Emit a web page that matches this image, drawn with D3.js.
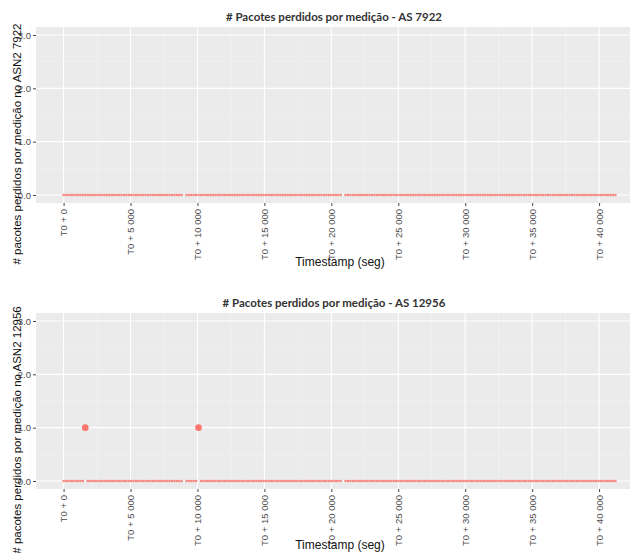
<!DOCTYPE html>
<html>
<head>
<meta charset="utf-8">
<script src="https://cdn.jsdelivr.net/npm/d3@7"></script>
<style>
  body { margin: 0; background: #fff; }
  svg { display: block; }
</style>
</head>
<body>
<div id="chart"></div>
<script>
// measurement timestamps (seconds after T0), shared by both ASes
const timestamps = [
  0,180,360,540,720,900,1080,1260,1440,1620,1800,1980,2160,2340,2520,2700,2880,3060,3240,3420,
  3600,3780,3960,4140,4320,4500,4680,4860,5040,5220,5400,5580,5760,5940,6120,6300,6480,6660,6840,7020,
  7200,7380,7560,7740,7920,8100,8280,8460,8640,8820,9180,9360,9540,9720,9900,10080,10260,10440,10620,10800,
  10980,11160,11340,11520,11700,11880,12060,12240,12420,12600,12780,12960,13140,13320,13500,13680,13860,14040,14220,14400,
  14580,14760,14940,15120,15300,15480,15660,15840,16020,16200,16380,16560,16740,16920,17100,17280,17460,17640,17820,18000,
  18180,18360,18540,18720,18900,19080,19260,19440,19620,19800,19980,20160,20340,20520,20700,21060,21240,21420,21600,21780,
  21960,22140,22320,22500,22680,22860,23040,23220,23400,23580,23760,23940,24120,24300,24480,24660,24840,25020,25200,25380,
  25560,25740,25920,26100,26280,26460,26640,26820,27000,27180,27360,27540,27720,27900,28080,28260,28440,28620,28800,28980,
  29160,29340,29520,29700,29880,30060,30240,30420,30600,30780,30960,31140,31320,31500,31680,31860,32040,32220,32400,32580,
  32760,32940,33120,33300,33480,33660,33840,34020,34200,34380,34560,34740,34920,35100,35280,35460,35640,35820,36000,36180,
  36360,36540,36720,36900,37080,37260,37440,37620,37800,37980,38160,38340,38520,38700,38880,39060,39240,39420,39600,39780,
  39960,40140,40320,40500,40680,40860,41040,41220
];

// measurements where one packet was lost
const lostAt7922 = [];
const lostAt12956 = [1620, 10080];

const xTicks = [0, 5000, 10000, 15000, 20000, 25000, 30000, 35000, 40000];
const yTicks = [0, 1, 2, 3];

const panels = [
  { title: "# Pacotes perdidos por medição - AS 7922", ylab: "# pacotes perdidos por medição no ASN2 7922", lost: lostAt7922, top: 27 },
  { title: "# Pacotes perdidos por medição - AS 12956", ylab: "# pacotes perdidos por medição no ASN2 12956", lost: lostAt12956, top: 313 }
];

const W = 630, H = 553;
const left = 36, right = 643, ph = 176;
const colour = "#F8766D";

const svg = d3.select("#chart").append("svg")
  .attr("width", W)
  .attr("height", H);

const x = d3.scaleLinear().domain([-2061, 43281]).range([left, right]);
const fmt = n => "T0 + " + d3.format(",")(n).replace(/,/g, " ");
const rScale = d3.scaleLinear().domain([0, 1]).range([1.3, 3.3]);

panels.forEach(p => {
  const y = d3.scaleLinear().domain([-0.15, 3.15]).range([p.top + ph, p.top]);
  const data = timestamps.map(t => ({ t: t, v: p.lost.filter(l => l === t).length }));

  const g = svg.append("g");

  g.append("rect")
    .attr("x", left).attr("y", p.top)
    .attr("width", right - left).attr("height", ph)
    .attr("fill", "#EBEBEB");

  // minor grid
  const xMinor = xTicks.map(d => d + 2500).concat([-2500]);
  g.selectAll(".xminor").data(xMinor).enter().append("line")
    .attr("x1", d => x(d)).attr("x2", d => x(d))
    .attr("y1", p.top).attr("y2", p.top + ph)
    .attr("stroke", "#F4F4F4").attr("stroke-width", 0.6);
  g.selectAll(".yminor").data([0.5, 1.5, 2.5]).enter().append("line")
    .attr("x1", left).attr("x2", right)
    .attr("y1", d => y(d)).attr("y2", d => y(d))
    .attr("stroke", "#F4F4F4").attr("stroke-width", 0.6);

  // major grid
  g.selectAll(".xmajor").data(xTicks).enter().append("line")
    .attr("x1", d => x(d)).attr("x2", d => x(d))
    .attr("y1", p.top).attr("y2", p.top + ph)
    .attr("stroke", "#fff").attr("stroke-width", 1.1);
  g.selectAll(".ymajor").data(yTicks).enter().append("line")
    .attr("x1", left).attr("x2", right)
    .attr("y1", d => y(d)).attr("y2", d => y(d))
    .attr("stroke", "#fff").attr("stroke-width", 1.1);

  // points
  g.selectAll(".pt").data(data).enter().append("circle")
    .attr("cx", d => x(d.t))
    .attr("cy", d => y(d.v))
    .attr("r", d => rScale(d.v))
    .attr("fill", colour)
    .attr("fill-opacity", d => d.v > 0 ? 1 : 0.85);

  // y axis
  const ya = g.append("g")
    .attr("transform", "translate(" + left + ",0)")
    .call(d3.axisLeft(y).tickValues(yTicks).tickSize(3).tickPadding(2));
  ya.select(".domain").remove();
  ya.selectAll("line").attr("stroke", "#444");
  ya.selectAll("text").attr("fill", "#4D4D4D").style("font", "9.5px 'Liberation Sans', Arial, sans-serif");

  // x axis
  const xa = g.append("g")
    .attr("transform", "translate(0," + (p.top + ph) + ")")
    .call(d3.axisBottom(x).tickValues(xTicks).tickFormat(fmt).tickSize(3));
  xa.select(".domain").remove();
  xa.selectAll("line").attr("stroke", "#444");
  xa.selectAll("text")
    .attr("fill", "#4D4D4D")
    .style("font", "9.5px 'Liberation Sans', Arial, sans-serif")
    .attr("transform", "rotate(-90)")
    .attr("text-anchor", "end")
    .attr("x", -6)
    .attr("y", 0)
    .attr("dy", "0.35em");

  // title
  g.append("text")
    .attr("x", 334).attr("y", p.top - 6)
    .attr("text-anchor", "middle")
    .style("font", "bold 11.5px Lato, 'Open Sans', sans-serif")
    .attr("fill", "#333")
    .text(p.title);

  // axis titles
  g.append("text")
    .attr("x", 340).attr("y", Math.min(p.top + ph + 63, 549))
    .attr("text-anchor", "middle")
    .style("font", "12px 'Liberation Sans', Arial, sans-serif")
    .attr("fill", "#111")
    .text("Timestamp (seg)");

  g.append("text")
    .attr("transform", "translate(21," + (p.top + ph / 2 + 29) + ") rotate(-90)")
    .attr("text-anchor", "middle")
    .style("font", "11.5px 'Liberation Sans', Arial, sans-serif")
    .attr("fill", "#111")
    .text(p.ylab);
});
</script>
</body>
</html>
